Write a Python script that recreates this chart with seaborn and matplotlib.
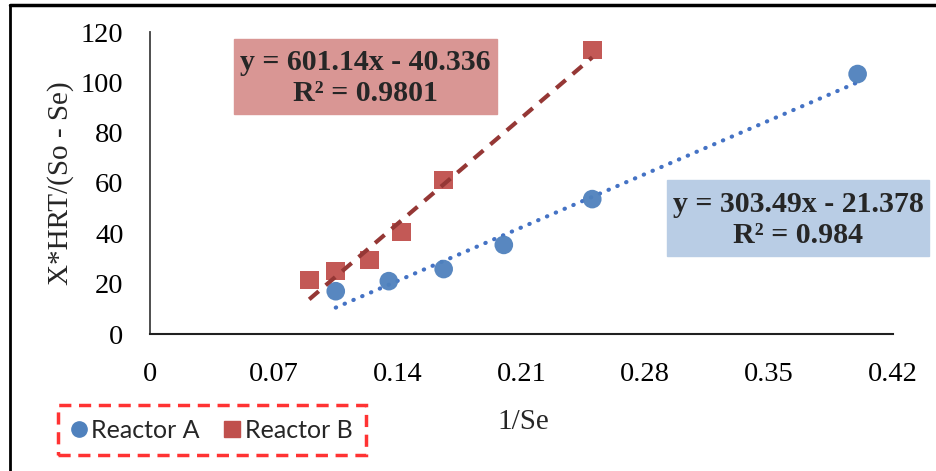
import matplotlib.pyplot as plt
import matplotlib.patches as mpatches
from matplotlib.lines import Line2D
import numpy as np
import pandas as pd
import seaborn as sns

# data
x_a = [0.105, 0.135, 0.166, 0.2, 0.25, 0.4]
y_a = [17.0, 21.0, 25.8, 35.4, 53.6, 103.3]
x_b = [0.09, 0.105, 0.124, 0.142, 0.166, 0.25]
y_b = [21.5, 25.0, 29.4, 40.5, 61.2, 112.8]

# trendline coefficients shown in the labels
fit_a = (303.49, -21.378, 0.984)
fit_b = (601.14, -40.336, 0.9801)

x_ticks = [0, 0.07, 0.14, 0.21, 0.28, 0.35, 0.42]
y_ticks = [0, 20, 40, 60, 80, 100, 120]

blue = '#4F81BD'
red = '#C0504D'

df = pd.DataFrame({
    'x': x_a + x_b,
    'y': y_a + y_b,
    'Reactor': ['Reactor A'] * len(x_a) + ['Reactor B'] * len(x_b),
})

sns.set_style("white")
plt.rcParams['font.family'] = ['Liberation Serif', 'DejaVu Serif']

fig = plt.figure(figsize=(9.37, 4.71), dpi=100)
ax = fig.add_axes([150 / 937, 1 - 334 / 471, (893 - 150) / 937, (334 - 32) / 471])

# trendlines
xa = np.array([min(x_a), max(x_a)])
ax.plot(xa, fit_a[0] * xa + fit_a[1], color='#4472C4', lw=3, ls=(0, (0.1, 2.2)),
        dash_capstyle='round', zorder=2)
xb = np.array([min(x_b), max(x_b)])
ax.plot(xb, fit_b[0] * xb + fit_b[1], color='#953735', lw=3, ls=(0, (3, 2.2)),
        zorder=4)

sns.scatterplot(data=df, x='x', y='y', hue='Reactor', style='Reactor',
                markers={'Reactor A': 'o', 'Reactor B': 's'},
                palette={'Reactor A': blue, 'Reactor B': red},
                s=180, edgecolor='none', linewidth=0, alpha=0.95, ax=ax,
                legend=False, zorder=3)

ax.set_xlim(0, 0.42)
ax.set_ylim(0, 120)
ax.set_xticks(x_ticks)
ax.set_xticklabels(['0', '0.07', '0.14', '0.21', '0.28', '0.35', '0.42'])
ax.set_yticks(y_ticks)
ax.tick_params(axis='both', length=0, labelsize=20.5, colors='black')
ax.tick_params(axis='x', pad=20)
ax.tick_params(axis='y', pad=19)
for s in ['top', 'right']:
    ax.spines[s].set_visible(False)
ax.spines['left'].set_color('#404040')
ax.spines['bottom'].set_color('#202020')
ax.spines['left'].set_linewidth(1.3)
ax.spines['bottom'].set_linewidth(1.5)

ax.set_xlabel('1/Se', fontsize=21)
ax.xaxis.set_label_coords((523 - 150) / 743, -(409 - 334) / 302)
ax.set_ylabel('X*HRT/(So - Se)', fontsize=21)
ax.yaxis.set_label_coords(-(150 - 74) / 743, 0.5)

# equation boxes
fig.patches.append(mpatches.Rectangle((234 / 937, 1 - 114 / 471), 263 / 937, 75 / 471,
                                      transform=fig.transFigure, color='#D99694', zorder=0))
fig.text(365 / 937, 1 - 78 / 471,
         f'y = {fit_b[0]:.2f}x - {abs(fit_b[1]):.3f}\nR\u00b2 = {fit_b[2]}',
         ha='center', va='center', fontsize=21.5, fontweight='bold', linespacing=1.22)
fig.patches.append(mpatches.Rectangle((667 / 937, 1 - 256 / 471), 262 / 937, 76 / 471,
                                      transform=fig.transFigure, color='#B9CDE5', zorder=0))
fig.text(798 / 937, 1 - 220 / 471,
         f'y = {fit_a[0]:.2f}x - {abs(fit_a[1]):.3f}\nR\u00b2 = {fit_a[2]}',
         ha='center', va='center', fontsize=21.5, fontweight='bold', linespacing=1.22)

# outer border (left and top)
fig.add_artist(Line2D([10 / 937, 10 / 937], [0, 1 - 5 / 471], color='black', lw=2,
                      transform=fig.transFigure))
fig.add_artist(Line2D([10 / 937, 1], [1 - 5 / 471, 1 - 5 / 471], color='black', lw=2.5,
                      transform=fig.transFigure))

# legend
handles = [
    Line2D([], [], marker='o', ls='none', color=blue, markersize=11, label='Reactor A'),
    Line2D([], [], marker='s', ls='none', color=red, markersize=12, label='Reactor B'),
]
leg = fig.legend(handles=handles, loc='center', bbox_to_anchor=(212 / 937, 1 - 430 / 471),
                 ncol=2, frameon=True, fancybox=False, handlelength=0.6, handletextpad=0.2,
                 columnspacing=1.0, borderpad=0.55,
                 prop={'family': ['Lato', 'DejaVu Sans'], 'size': 18})
frame = leg.get_frame()
frame.set_edgecolor('#FF0000')
frame.set_linewidth(2.5)
frame.set_linestyle((0, (3.5, 2.2)))
frame.set_facecolor('white')

plt.savefig('out.png', dpi=100)
